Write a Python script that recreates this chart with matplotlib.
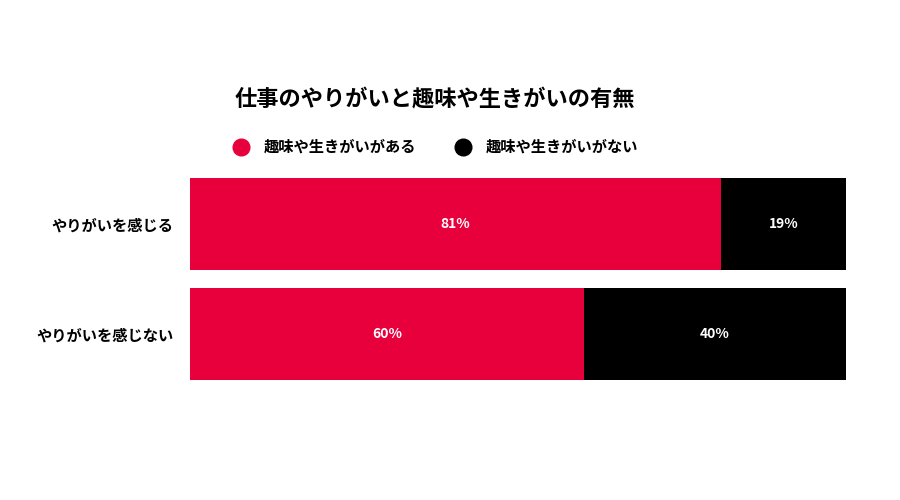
import matplotlib
matplotlib.use("Agg")
import matplotlib.pyplot as plt
from matplotlib.lines import Line2D

plt.rcParams['font.family'] = ['Noto Sans CJK JP', 'DejaVu Sans']

categories = ["やりがいを感じる", "やりがいを感じない"]
have = [81, 60]
not_have = [19, 40]
series_names = ["趣味や生きがいがある", "趣味や生きがいがない"]
title = "仕事のやりがいと趣味や生きがいの有無"
red = "#E8003D"
black = "#000000"

fig = plt.figure(figsize=(9, 5), dpi=100)
ax = fig.add_axes([190/900, 1-380/500, (846-190)/900, 202/500])
y = list(range(len(categories)))
h = 92/110
ax.barh(y, have, height=h, color=red)
ax.barh(y, not_have, left=have, height=h, color=black)
for i in y:
    ax.text(have[i]/2, i, f"{have[i]}%", color="white", ha="center", va="center", fontsize=10, fontweight="bold")
    ax.text(have[i]+not_have[i]/2, i, f"{not_have[i]}%", color="white", ha="center", va="center", fontsize=10, fontweight="bold")
ax.set_xlim(0, 100)
ax.set_ylim(1+h/2, -h/2)
ax.set_yticks(y)
ax.set_yticklabels(categories, fontsize=11, fontweight="bold")
ax.tick_params(axis='y', length=0, pad=12)
ax.set_xticks([])
for s in ax.spines.values():
    s.set_visible(False)

fig.text(435/900, 1-100/500, title, ha="center", va="center", fontsize=16, fontweight="bold")
handles = [Line2D([], [], marker='o', linestyle='', color=red, markersize=12),
           Line2D([], [], marker='o', linestyle='', color=black, markersize=12)]
fig.legend(handles, series_names, loc="center", bbox_to_anchor=(432/900, 1-147/500), ncol=2,
           frameon=False, prop={'family': ['Noto Sans CJK JP'], 'weight': 'bold', 'size': 11},
           handletextpad=0.5, columnspacing=2.0)
fig.savefig("out.png", dpi=100, facecolor="white")
